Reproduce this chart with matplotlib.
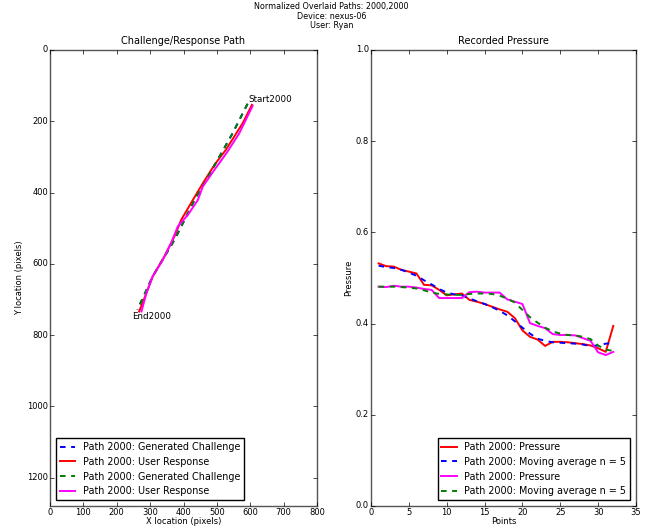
import matplotlib
matplotlib.use("Agg")
import matplotlib.pyplot as plt

plt.style.use("classic")
plt.rcParams["figure.facecolor"] = "white"
plt.rcParams["savefig.facecolor"] = "white"
plt.rcParams["font.family"] = ["DejaVu Sans"]

# ---- Left panel: paths (x, y in pixels) ----
challenge_x = [592, 547, 488, 433, 373, 308, 262]
challenge_y = [151, 234, 332, 421, 533, 635, 729]

response1_x = [605, 577, 527, 493, 458, 428, 393, 373, 343, 308, 289, 267]
response1_y = [154, 206, 280, 322, 374, 421, 477, 523, 579, 635, 682, 734]

response2_x = [607, 567, 532, 493, 458, 443, 413, 383, 363, 338, 308, 289, 274]
response2_y = [157, 234, 285, 336, 383, 421, 463, 495, 542, 589, 635, 682, 734]

start_label = "Start2000"
end_label = "End2000"
start_pos = (594, 145)
end_pos = (246, 755)

# ---- Right panel: pressure ----
points = list(range(1, 33))
pressure1 = [0.532, 0.526, 0.525, 0.518, 0.514, 0.510, 0.485, 0.484, 0.474, 0.462,
             0.464, 0.466, 0.452, 0.448, 0.443, 0.437, 0.431, 0.426, 0.412, 0.385,
             0.371, 0.365, 0.351, 0.360, 0.360, 0.359, 0.357, 0.355, 0.352, 0.346,
             0.338, 0.395]
movavg1 = [0.527, 0.524, 0.522, 0.518, 0.512, 0.505, 0.495, 0.486, 0.476, 0.468,
           0.464, 0.462, 0.455, 0.449, 0.443, 0.436, 0.428, 0.418, 0.405, 0.391,
           0.378, 0.367, 0.362, 0.359, 0.358, 0.357, 0.356, 0.354, 0.351, 0.352,
           0.356, 0.357]
pressure2 = [0.481, 0.480, 0.483, 0.481, 0.481, 0.479, 0.476, 0.474, 0.456, 0.456,
             0.456, 0.456, 0.469, 0.470, 0.468, 0.468, 0.468, 0.453, 0.448, 0.443,
             0.401, 0.395, 0.390, 0.377, 0.375, 0.375, 0.374, 0.368, 0.362, 0.337,
             0.331, 0.338]
movavg2 = [0.481, 0.481, 0.481, 0.480, 0.479, 0.477, 0.473, 0.468, 0.465, 0.464,
           0.463, 0.463, 0.465, 0.466, 0.466, 0.465, 0.461, 0.455, 0.446, 0.430,
           0.414, 0.402, 0.391, 0.383, 0.378, 0.375, 0.374, 0.371, 0.366, 0.352,
           0.343, 0.340]

fig = plt.figure(figsize=(6.63, 5.26), dpi=100)
ax1 = fig.add_axes([50 / 663, 1 - 506 / 526, 267 / 663, 456 / 526])
ax2 = fig.add_axes([371 / 663, 1 - 506 / 526, 265 / 663, 456 / 526])

fig.text(0.5, 0.996, "Normalized Overlaid Paths: 2000,2000\nDevice: nexus-06\nUser: Ryan",
         ha="center", va="top", fontsize=5.8, linespacing=1.08)

lw = 1.4
dash = (0, (4, 4))
ax1.plot(challenge_x, challenge_y, color="b", ls=dash, lw=lw, label="Path 2000: Generated Challenge")
ax1.plot(response1_x, response1_y, "r-", lw=lw, label="Path 2000: User Response")
ax1.plot(challenge_x, challenge_y, color="g", ls=dash, lw=lw, label="Path 2000: Generated Challenge")
ax1.plot(response2_x, response2_y, "-", color="magenta", lw=lw, label="Path 2000: User Response")
ax1.text(start_pos[0], start_pos[1], start_label, fontsize=6.3)
ax1.text(end_pos[0], end_pos[1], end_label, fontsize=6.3)
ax1.set_xlim(0, 800)
ax1.set_ylim(1280, 0)
ax1.set_yticks([0, 200, 400, 600, 800, 1000, 1200])
ax1.set_xticks(range(0, 801, 100))
ax1.set_title("Challenge/Response Path", fontsize=7, pad=4)
ax1.set_xlabel("X location (pixels)", fontsize=6, labelpad=0)
ax1.set_ylabel("Y location (pixels)", fontsize=6, labelpad=2)
ax1.legend(loc="lower left", fontsize=6.9, handlelength=1.6, numpoints=1,
           borderaxespad=0.6)

ax2.plot(points, pressure1, "r-", lw=lw, label="Path 2000: Pressure")
ax2.plot(points, movavg1, color="b", ls=dash, lw=lw, label="Path 2000: Moving average n = 5")
ax2.plot(points, pressure2, "-", color="magenta", lw=lw, label="Path 2000: Pressure")
ax2.plot(points, movavg2, color="g", ls=dash, lw=lw, label="Path 2000: Moving average n = 5")
ax2.set_xlim(0, 35)
ax2.set_ylim(0, 1.0)
ax2.set_title("Recorded Pressure", fontsize=7, pad=4)
ax2.set_xlabel("Points", fontsize=6, labelpad=0)
ax2.set_ylabel("Pressure", fontsize=6, labelpad=2)
ax2.legend(loc="lower right", fontsize=6.9, handlelength=1.6, numpoints=1,
           borderaxespad=0.6)

for ax in (ax1, ax2):
    ax.tick_params(labelsize=6, direction="in", length=3, pad=1.5)
    for s in ax.spines.values():
        s.set_color("#555555")

fig.savefig("out.png", dpi=100)
